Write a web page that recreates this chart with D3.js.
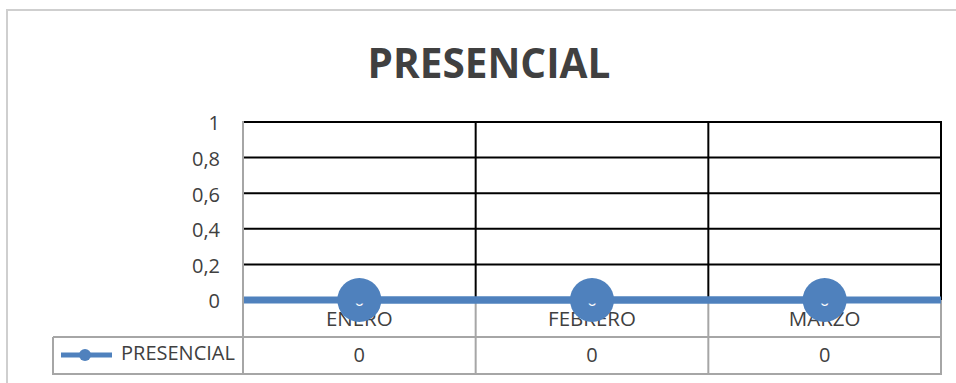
<!DOCTYPE html>
<html>
<head>
<meta charset="utf-8">
<script src="https://cdn.jsdelivr.net/npm/d3@7"></script>
<style>
  body { margin: 0; background: #fff; }
  text { font-family: "Open Sans", "Liberation Sans", sans-serif; fill: #404040; }
</style>
</head>
<body>
<div id="canvas"></div>
<script>
const categories = ["ENERO", "FEBRERO", "MARZO"];
const presencial = [0, 0, 0];
const seriesName = "PRESENCIAL";
const yTicks = [0, 0.2, 0.4, 0.6, 0.8, 1];
const title = "PRESENCIAL";

const width = 956, height = 383;
const margin = { top: 122, left: 243, right: 15, bottom: 83 };
const blue = "#4f81bd";
const gray = "#a6a6a6";

const svg = d3.select("#canvas").append("svg")
    .attr("width", width)
    .attr("height", height);

// chart frame
svg.append("rect")
    .attr("x", 7).attr("y", 10)
    .attr("width", width + 20).attr("height", height + 20)
    .attr("fill", "none")
    .attr("stroke", "#cfcfcf")
    .attr("stroke-width", 2);

svg.append("text")
    .attr("x", 489).attr("y", 78)
    .attr("text-anchor", "middle")
    .style("font-size", "40.5px")
    .style("font-weight", "bold")
    .text(title);

const x = d3.scaleBand()
    .domain(categories)
    .range([margin.left, width - margin.right]);

const y = d3.scaleLinear()
    .domain([0, 1])
    .range([height - margin.bottom, margin.top]);

const fmt = d3.formatLocale({ decimal: ",", thousands: ".", grouping: [3], currency: ["", "€"] }).format("~g");

// horizontal gridlines
svg.append("g")
    .selectAll("line")
    .data(yTicks.filter(d => d > 0))
    .enter().append("line")
    .attr("x1", x.range()[0]).attr("x2", x.range()[1])
    .attr("y1", d => y(d)).attr("y2", d => y(d))
    .attr("stroke", "#000")
    .attr("stroke-width", 2);

// vertical gridlines (category borders)
const borders = categories.map(c => x(c) + x.bandwidth());
svg.append("g")
    .selectAll("line")
    .data(borders)
    .enter().append("line")
    .attr("x1", d => d).attr("x2", d => d)
    .attr("y1", y(1) - 1).attr("y2", y(0))
    .attr("stroke", "#000")
    .attr("stroke-width", 2);

// y axis labels
svg.append("g")
    .selectAll("text")
    .data(yTicks)
    .enter().append("text")
    .attr("x", margin.left - 23)
    .attr("y", d => y(d) + 3)
    .attr("text-anchor", "end")
    .attr("dominant-baseline", "middle")
    .style("font-size", "20px")
    .text(d => fmt(d));

// data table
const rowTop = y(0), rowMid = 337, rowBot = 374;
const tableLeft = 53;

const table = svg.append("g")
    .attr("stroke", gray)
    .attr("stroke-width", 2);

table.selectAll(".vcat")
    .data(borders)
    .enter().append("line")
    .attr("x1", d => d).attr("x2", d => d)
    .attr("y1", rowTop).attr("y2", rowBot);

table.append("line")
    .attr("x1", x.range()[0]).attr("x2", x.range()[0])
    .attr("y1", y(1) - 1).attr("y2", rowBot);

table.append("line")
    .attr("x1", tableLeft).attr("x2", tableLeft)
    .attr("y1", rowMid).attr("y2", rowBot);

table.append("line")
    .attr("x1", tableLeft).attr("x2", x.range()[1] + 1)
    .attr("y1", rowMid).attr("y2", rowMid);

table.append("line")
    .attr("x1", tableLeft - 1).attr("x2", x.range()[1] + 1)
    .attr("y1", rowBot).attr("y2", rowBot);

// category labels
svg.append("g")
    .selectAll("text")
    .data(categories)
    .enter().append("text")
    .attr("x", d => x(d) + x.bandwidth() / 2)
    .attr("y", 321)
    .attr("text-anchor", "middle")
    .attr("dominant-baseline", "middle")
    .style("font-size", "20.5px")
    .text(d => d);

// values row
svg.append("g")
    .selectAll("text")
    .data(presencial)
    .enter().append("text")
    .attr("x", (d, i) => x(categories[i]) + x.bandwidth() / 2)
    .attr("y", 357)
    .attr("text-anchor", "middle")
    .attr("dominant-baseline", "middle")
    .style("font-size", "20px")
    .text(d => fmt(d));

// legend key in the table
svg.append("line")
    .attr("x1", 61).attr("x2", 112)
    .attr("y1", 355).attr("y2", 355)
    .attr("stroke", blue)
    .attr("stroke-width", 5);
svg.append("circle")
    .attr("cx", 85).attr("cy", 355)
    .attr("r", 6)
    .attr("fill", blue);
svg.append("text")
    .attr("x", 121).attr("y", 355)
    .attr("dominant-baseline", "middle")
    .style("font-size", "20px")
    .text(seriesName);

// x axis line (blue)
svg.append("line")
    .attr("x1", x.range()[0] + 1).attr("x2", x.range()[1])
    .attr("y1", y(0)).attr("y2", y(0))
    .attr("stroke", blue)
    .attr("stroke-width", 7);

// series
const line = d3.line()
    .x((d, i) => x(categories[i]) + x.bandwidth() / 2)
    .y(d => y(d));

svg.append("path")
    .datum(presencial)
    .attr("d", line)
    .attr("fill", "none")
    .attr("stroke", blue)
    .attr("stroke-width", 7);

svg.append("g")
    .selectAll("circle")
    .data(presencial)
    .enter().append("circle")
    .attr("cx", (d, i) => x(categories[i]) + x.bandwidth() / 2)
    .attr("cy", d => y(d))
    .attr("r", 22)
    .attr("fill", blue);

// data labels (white, mostly hidden)
svg.append("clipPath")
    .attr("id", "lblclip")
    .append("rect")
    .attr("x", 0).attr("y", y(0) + 3.5)
    .attr("width", width).attr("height", 4);

svg.append("g")
    .attr("clip-path", "url(#lblclip)")
    .selectAll("text")
    .data(presencial)
    .enter().append("text")
    .attr("x", (d, i) => x(categories[i]) + x.bandwidth() / 2)
    .attr("y", y(0) + 6)
    .attr("text-anchor", "middle")
    .style("font-size", "17px")
    .style("fill", "#fff")
    .text(d => fmt(d));
</script>
</body>
</html>
